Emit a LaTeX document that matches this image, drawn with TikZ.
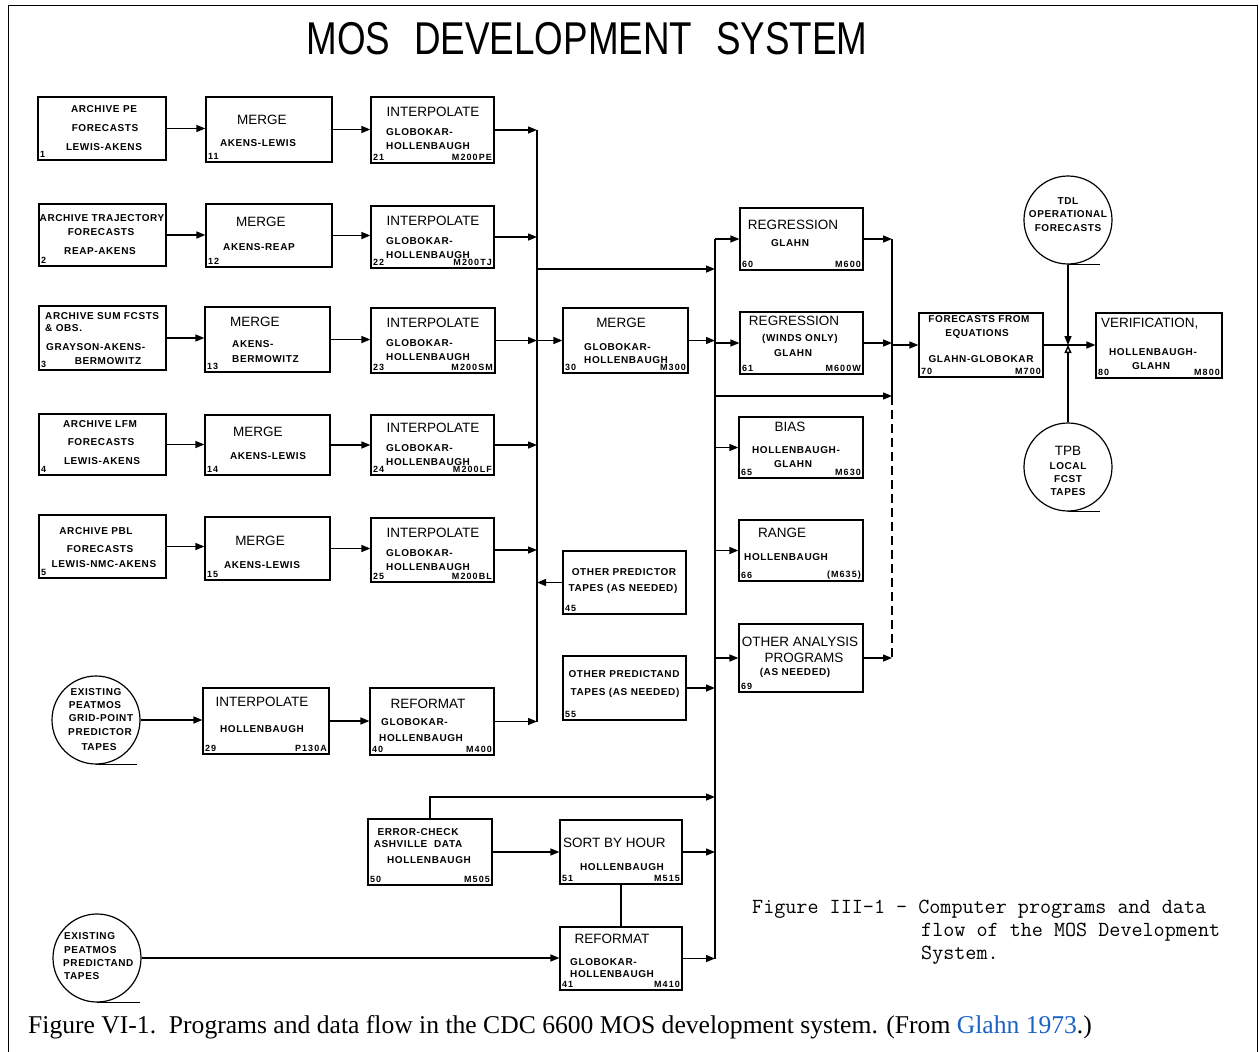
\documentclass[tikz,border=0pt]{standalone}
\usepackage{fontspec}
\usetikzlibrary{arrows.meta}
\newfontfamily\mosSmFam{Liberation Sans}[LetterSpace=6]
\newfontfamily\mosBgFam{Liberation Sans}
\newfontfamily\mosNmFam{Liberation Sans}[LetterSpace=12]
\newfontfamily\mosSerifFam{Liberation Serif}
\newcommand\mosSm{\mosSmFam\bfseries\fontsize{10}{12}\selectfont}
\newcommand\mosBg{\mosBgFam\fontsize{13.5}{15}\selectfont}
\newcommand\mosNm{\mosNmFam\bfseries\fontsize{9}{10}\selectfont}
\newcommand\mosTitle{\mosBgFam\fontsize{46}{50}\selectfont}
\newcommand\mosCap{\mosSerifFam\fontsize{25.6}{28}\selectfont}
\newcommand\mosMono{\ttfamily\fontsize{21.5}{23}\selectfont}
\definecolor{linkblue}{RGB}{28,98,196}
\newcounter{mostn}
\newcommand\mostxt[4][]{\stepcounter{mostn}\node[#1] (t\arabic{mostn}) at (#2,#3) {#4};}
\newcommand\mosbox[7]{%
  \node[box, minimum width={(#4-#2)*1pt}, minimum height={(#5-#3)*1pt}] (#1) at ({(#2+#4)/2},{(#3+#5)/2}) {};
  \node[nm, anchor=south west] (#1n) at ([shift={(2.5,-2.5)}]#1.south west) {#6};
  \if\relax\detokenize{#7}\relax\else
  \node[nm, anchor=south east] (#1c) at ([shift={(-2.5,-2.5)}]#1.south east) {#7};\fi}
\newcommand\mosinterp[1]{%
  \mostxt[bg]{433}{#1+15}{INTERPOLATE}
  \mostxt[sm,anchor=west]{386}{#1+35}{GLOBOKAR-}
  \mostxt[sm,anchor=west]{386}{#1+49}{HOLLENBAUGH}}
\begin{document}
\begin{tikzpicture}[x=1pt,y=-1pt,
  box/.style={draw, line width=1.2pt, inner sep=0pt},
  sm/.style={font=\mosSm, inner sep=0pt},
  bg/.style={font=\mosBg, inner sep=0pt},
  nm/.style={font=\mosNm, inner sep=0pt},
  mono/.style={font=\mosMono, inner sep=0pt},
  arr/.style={line width=1.4pt, -{Triangle[length=9pt,width=7pt]}},
  ln/.style={line width=1.4pt},
  tape/.style={draw, circle, line width=1.2pt, inner sep=0pt}]
\useasboundingbox (0,0) rectangle (1259,1052);
\fill[white] (0,0) rectangle (1259,1052);
\draw[line width=1pt] (8,1052) -- (8,5) -- (1257,5) -- (1257,1052);

% title
\node[inner sep=0pt] (title) at (587,39) {\mosTitle\scalebox{0.8}[1]{MOS\hspace{30pt}DEVELOPMENT\hspace{30pt}SYSTEM}};

% boxes
\mosbox{b1}{38}{97}{166}{160}{1}{}
\mosbox{b2}{39}{204}{166}{266}{2}{}
\mosbox{b3}{39}{306}{166}{370}{3}{}
\mosbox{b4}{39}{414}{166}{475}{4}{}
\mosbox{b5}{39}{515}{166}{578}{5}{}
\mosbox{b11}{206}{97}{332}{162}{11}{}
\mosbox{b12}{206}{204}{332}{267}{12}{}
\mosbox{b13}{205}{307}{330}{372}{13}{}
\mosbox{b14}{205}{415}{330}{475}{14}{}
\mosbox{b15}{205}{517}{330}{580}{15}{}
\mosbox{b21}{371}{97}{494}{163}{21}{M200PE}
\mosbox{b22}{371}{206}{494}{268}{22}{M200TJ}
\mosbox{b23}{371}{308}{495}{373}{23}{M200SM}
\mosbox{b24}{371}{415}{494}{475}{24}{M200LF}
\mosbox{b25}{371}{518}{494}{582}{25}{M200BL}
\mosbox{b29}{203}{688}{329}{754}{29}{P130A}
\mosbox{b40}{370}{688}{494}{755}{40}{M400}
\mosbox{b30}{563}{308}{688}{373}{30}{M300}
\mosbox{b45}{563}{551}{686}{614}{45}{}
\mosbox{b55}{563}{656}{686}{720}{55}{}
\mosbox{b60}{740}{208}{863}{270}{60}{M600}
\mosbox{b61}{740}{312}{863}{374}{61}{M600W}
\mosbox{b65}{739}{417}{863}{478}{65}{M630}
\mosbox{b66}{739}{520}{863}{581}{66}{(M635)}
\mosbox{b69}{739}{624}{863}{692}{69}{}
\mosbox{b70}{919}{313}{1043}{377}{70}{M700}
\mosbox{b80}{1096}{313}{1222}{378}{80}{M800}
\mosbox{b50}{368}{819}{492}{885}{50}{M505}
\mosbox{b51}{560}{820}{682}{884}{51}{M515}
\mosbox{b41}{560}{927}{682}{990}{41}{M410}

% tapes
\node[tape, minimum size=88pt] (c1) at (96,720) {};
\node[tape, minimum size=88pt] (c2) at (97,958) {};
\node[tape, minimum size=88pt] (c3) at (1068,220) {};
\node[tape, minimum size=88pt] (c4) at (1068,467) {};
\draw[ln] (c1.south) -- ++(41,0);
\draw[ln] (c2.south) -- ++(43,0);
\draw[ln] (c3.south) -- ++(32,0);
\draw[ln] (c4.south) -- ++(32,0);

% texts
\mostxt[sm]{104}{109}{ARCHIVE PE}
\mostxt[sm]{105}{128}{FORECASTS}
\mostxt[sm]{104}{147}{LEWIS-AKENS}
\mostxt[sm]{102}{218}{ARCHIVE TRAJECTORY}
\mostxt[sm]{101}{232}{FORECASTS}
\mostxt[sm]{100}{251}{REAP-AKENS}
\mostxt[sm,anchor=west]{45}{316}{ARCHIVE SUM FCSTS}
\mostxt[sm,anchor=west]{45}{328}{\& OBS.}
\mostxt[sm,anchor=west]{46}{347}{GRAYSON-AKENS-}
\mostxt[sm]{108}{361}{BERMOWITZ}
\mostxt[sm]{100}{424}{ARCHIVE LFM}
\mostxt[sm]{101}{442}{FORECASTS}
\mostxt[sm]{102}{461}{LEWIS-AKENS}
\mostxt[sm]{96}{531}{ARCHIVE PBL}
\mostxt[sm]{100}{549}{FORECASTS}
\mostxt[sm]{104}{564}{LEWIS-NMC-AKENS}
\mostxt[bg]{262}{120}{MERGE}
\mostxt[sm]{258}{143}{AKENS-LEWIS}
\mostxt[bg]{261}{222}{MERGE}
\mostxt[sm]{259}{247}{AKENS-REAP}
\mostxt[bg,anchor=west]{230}{322}{MERGE}
\mostxt[sm,anchor=west]{232}{344}{AKENS-}
\mostxt[sm,anchor=west]{232}{359}{BERMOWITZ}
\mostxt[bg]{258}{432}{MERGE}
\mostxt[sm]{268}{456}{AKENS-LEWIS}
\mostxt[bg]{260}{541}{MERGE}
\mostxt[sm]{262}{565}{AKENS-LEWIS}
\mosinterp{97}
\mosinterp{206}
\mosinterp{308}
\mosinterp{413}
\mosinterp{518}
\mostxt[bg]{262}{702}{INTERPOLATE}
\mostxt[sm]{262}{729}{HOLLENBAUGH}
\mostxt[bg]{428}{704}{REFORMAT}
\mostxt[sm,anchor=west]{381}{722}{GLOBOKAR-}
\mostxt[sm,anchor=west]{379}{738}{HOLLENBAUGH}
\mostxt[bg]{621}{323}{MERGE}
\mostxt[sm,anchor=west]{584}{347}{GLOBOKAR-}
\mostxt[sm,anchor=west]{584}{360}{HOLLENBAUGH}
\mostxt[sm]{624}{572}{OTHER PREDICTOR}
\mostxt[sm]{623}{589}{TAPES (AS NEEDED)}
\mostxt[sm]{624}{674}{OTHER PREDICTAND}
\mostxt[sm]{625}{693}{TAPES (AS NEEDED)}
\mostxt[bg]{793}{225}{REGRESSION}
\mostxt[sm]{790}{243}{GLAHN}
\mostxt[bg]{794}{321}{REGRESSION}
\mostxt[sm]{800}{339}{(WINDS ONLY)}
\mostxt[sm]{793}{353}{GLAHN}
\mostxt[bg]{790}{427}{BIAS}
\mostxt[sm]{796}{450}{HOLLENBAUGH-}
\mostxt[sm]{793}{464}{GLAHN}
\mostxt[bg]{782}{533}{RANGE}
\mostxt[sm,anchor=west]{744}{557}{HOLLENBAUGH}
\mostxt[bg]{800}{642}{OTHER ANALYSIS}
\mostxt[bg]{804}{658}{PROGRAMS}
\mostxt[sm]{795}{673}{(AS NEEDED)}
\mostxt[sm]{979}{319}{FORECASTS FROM}
\mostxt[sm]{977}{334}{EQUATIONS}
\mostxt[sm]{981}{359}{GLAHN-GLOBOKAR}
\mostxt[bg,anchor=west]{1101}{324}{VERIFICATION,}
\mostxt[sm]{1153}{352}{HOLLENBAUGH-}
\mostxt[sm]{1151}{366}{GLAHN}
\mostxt[sm]{418}{832}{ERROR-CHECK}
\mostxt[sm]{418}{844}{ASHVILLE\ \ DATA}
\mostxt[sm]{429}{860}{HOLLENBAUGH}
\mostxt[bg,anchor=west]{563}{843}{SORT BY HOUR}
\mostxt[sm]{622}{867}{HOLLENBAUGH}
\mostxt[bg]{612}{939}{REFORMAT}
\mostxt[sm,anchor=west]{570}{962}{GLOBOKAR-}
\mostxt[sm,anchor=west]{570}{974}{HOLLENBAUGH}
% circle texts
\mostxt[sm]{96}{692}{EXISTING}
\mostxt[sm]{95}{705}{PEATMOS}
\mostxt[sm]{101}{718}{GRID-POINT}
\mostxt[sm]{100}{732}{PREDICTOR}
\mostxt[sm]{99}{747}{TAPES}
\mostxt[sm,anchor=west]{64}{936}{EXISTING}
\mostxt[sm,anchor=west]{64}{950}{PEATMOS}
\mostxt[sm,anchor=west]{63}{963}{PREDICTAND}
\mostxt[sm,anchor=west]{64}{976}{TAPES}
\mostxt[sm]{1068}{201}{TDL}
\mostxt[sm]{1068}{214}{OPERATIONAL}
\mostxt[sm]{1068}{228}{FORECASTS}
\mostxt[bg]{1068}{451}{TPB}
\mostxt[sm]{1068}{466}{LOCAL}
\mostxt[sm]{1068}{479}{FCST}
\mostxt[sm]{1068}{492}{TAPES}

% connectors
\coordinate (bus1x) at (537,0);
\coordinate (bus2x) at (715,0);
\coordinate (bus3x) at (892,0);
\coordinate (j12) at (537,269);
\coordinate (j23) at (715,396);
\coordinate (e50) at (715,797);
\foreach \a/\b in {b1/b11,b11/b21,b2/b12,b12/b22,b3/b13,b13/b23,b4/b14,b14/b24,b5/b15,b15/b25,c1/b29,b29/b40,b50/b51,c2/b41}
  \draw[arr] (\a.east) -- (\b.west |- \a.east);
\foreach \a in {b21,b22,b23,b24,b25,b40}
  \draw[arr] (\a.east) -- (\a.east -| bus1x);
\draw[ln] (b21.east -| bus1x) -- (b40.east -| bus1x);
\draw[arr] (b23.east -| bus1x) -- (b30.west |- b23.east);
\draw[arr] (b45.west) -- (b45.west -| bus1x);
\draw[arr] (j12) -- (j12 -| bus2x);
\draw[ln] (b60.west -| bus2x) -- (b41.east -| bus2x);
\foreach \a in {b60,b61,b65,b66,b69}
  \draw[arr] (\a.west -| bus2x) -- (\a.west);
\draw[arr] (b30.east) -- (b30.east -| bus2x);
\foreach \a in {b55,b51,b41}
  \draw[arr] (\a.east) -- (\a.east -| bus2x);
\draw[arr] (b50.north) |- (e50);
\draw[ln] (b51.south) -- (b41.north);
\draw[arr] (j23) -- (j23 -| bus3x);
\draw[ln] (b60.east -| bus3x) -- (j23 -| bus3x);
\draw[ln, dash pattern=on 9pt off 5pt] (j23 -| bus3x) -- (b69.east -| bus3x);
\foreach \a in {b60,b61,b69}
  \draw[arr] (\a.east) -- (\a.east -| bus3x);
\draw[arr] (b70.west -| bus3x) -- (b70.west);
\draw[arr] (b70.east) -- (b80.west |- b70.east);
\coordinate (jx) at (b70.east -| c3.south);
\draw[arr] (c3.south) -- (jx);
\draw[ln, -{Triangle[open,length=8pt,width=7pt]}] (c4.north) -- (jx);

% captions
\mostxt[mono,anchor=base west]{752}{913}{Figure III-1 - Computer programs and data}
\mostxt[mono,anchor=base west]{921}{936}{flow of the MOS Development}
\mostxt[mono,anchor=base west]{921}{959}{System.}
\node[anchor=base west, inner sep=0pt, font=\mosCap] (cap) at (28,1033) {Figure VI-1.\ \ Programs and data flow in the CDC 6600 MOS development system. (From \textcolor{linkblue}{Glahn 1973}.)};
\end{tikzpicture}
\end{document}
